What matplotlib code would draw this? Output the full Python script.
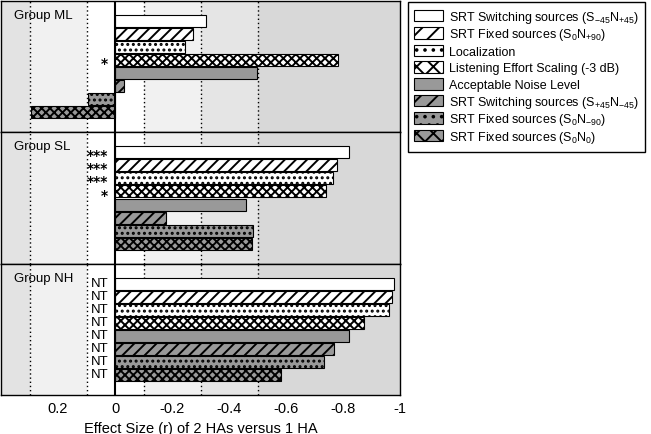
import matplotlib.pyplot as plt
import matplotlib.patches as mpatches
from matplotlib.legend_handler import HandlerPatch
import numpy as np

plt.rcParams['font.family'] = ['Liberation Sans', 'DejaVu Sans']
plt.rcParams['mathtext.fontset'] = 'custom'
plt.rcParams['mathtext.rm'] = 'Liberation Sans'
plt.rcParams['mathtext.it'] = 'Liberation Sans:italic'
plt.rcParams['hatch.linewidth'] = 1.4

# conditions, top to bottom within each group
conditions = [r'SRT Switching sources (S$_{\mathregular{-45}}$N$_{\mathregular{+45}}$)',
              r'SRT Fixed sources (S$_{\mathregular{0}}$N$_{\mathregular{+90}}$)',
              'Localization',
              'Listening Effort Scaling (-3 dB)',
              'Acceptable Noise Level',
              r'SRT Switching sources (S$_{\mathregular{+45}}$N$_{\mathregular{-45}}$)',
              r'SRT Fixed sources (S$_{\mathregular{0}}$N$_{\mathregular{-90}}$)',
              r'SRT Fixed sources (S$_{\mathregular{0}}$N$_{\mathregular{0}}$)']

groups = ['Group ML', 'Group SL', 'Group NH']

# effect sizes r (negative = benefit of 2 HAs)
r_ml = [-0.32, -0.274, -0.247, -0.781, -0.497, -0.033, 0.094, 0.295]
r_sl = [-0.822, -0.779, -0.766, -0.740, -0.460, -0.180, -0.484, -0.480]
r_nh = [-0.978, -0.972, -0.961, -0.873, -0.820, -0.770, -0.733, -0.582]

sig_ml = ['', '', '', '*', '', '', '', '']
sig_sl = ['***', '***', '***', '*', '', '', '', '']
sig_nh = ['NT'] * 8

xticks = [0.2, 0, -0.2, -0.4, -0.6, -0.8, -1]
xticklabels = ['0.2', '0', '-0.2', '-0.4', '-0.6', '-0.8', '-1']

facecolors = ['white', 'white', 'white', 'white', '#999999', '#999999', '#999999', '#999999']
hatches = [None, '///', '...', 'xxxx', None, '///', '...', 'xxxx']
# legend boxes show a coarser version of the same patterns
leg_hatches = [None, '//', '..', 'xx', None, '//', '..', 'xx']

W, H = 651, 434
fig = plt.figure(figsize=(W / 100, H / 100), dpi=100)

# panel rectangles in pixels (top, bottom)
panel_px = [(1, 132), (132, 264), (264, 395)]
left_px, right_px = 1, 400

y = np.arange(8)
all_r = [r_ml, r_sl, r_nh]
all_sig = [sig_ml, sig_sl, sig_nh]
for k, (top, bot) in enumerate(panel_px):
    ax = fig.add_axes([left_px / W, 1 - bot / H, (right_px - left_px) / W, (bot - top) / H])
    # effect size bands
    ax.axvspan(0.4, 0.3, color='#e3e3e3', lw=0, zorder=0)
    ax.axvspan(0.3, 0.1, color='#f1f1f1', lw=0, zorder=0)
    ax.axvspan(-0.1, -0.3, color='#f1f1f1', lw=0, zorder=0)
    ax.axvspan(-0.3, -0.5, color='#e5e5e5', lw=0, zorder=0)
    ax.axvspan(-0.5, -1.0, color='#d8d8d8', lw=0, zorder=0)
    for xv in [0.3, 0.1, -0.1, -0.3, -0.5]:
        ax.axvline(xv, color='black', lw=1, ls=(0, (1, 2)), zorder=1)
    ax.axvline(0, color='black', lw=1.5, zorder=3)

    bars = ax.barh(y, all_r[k], height=0.9, color=facecolors, edgecolor='black',
                   linewidth=0.8, zorder=2)
    for b, h in zip(bars, hatches):
        if h:
            b.set_hatch(h)

    for yi, s in zip(y, all_sig[k]):
        if s.startswith('*'):
            ax.text(0.025, yi + 0.62, s, ha='right', va='baseline', fontsize=10,
                    fontweight='bold', family='DejaVu Sans', zorder=4)
        elif s:
            ax.text(0.022, yi, s, ha='right', va='center', fontsize=9.5, zorder=4)

    ax.text(0.033, 0.885, groups[k], transform=ax.transAxes, ha='left', va='center',
            fontsize=9.5)
    ax.set_xlim(0.4, -1.0)
    ax.set_ylim(8.5, -1.5)
    ax.set_yticks([])
    for sp in ax.spines.values():
        sp.set_linewidth(1)
    if k < 2:
        ax.set_xticks([])
    else:
        ax.set_xticks(xticks)
        ax.set_xticklabels(xticklabels, fontsize=10.5)
        ax.tick_params(axis='x', length=0, pad=5)
        ax.set_xlabel('Effect Size (r) of 2 HAs versus 1 HA', fontsize=10.5, labelpad=4)


def small_box(legend, orig_handle, xdescent, ydescent, width, height, fontsize):
    h = 0.92 * fontsize
    return mpatches.Rectangle((-xdescent, -ydescent + (height - h) / 2 + 0.8), width, h)


handles = [mpatches.Patch(facecolor=fc, edgecolor='black', hatch=h, linewidth=0.8)
           for fc, h in zip(facecolors, leg_hatches)]
leg = fig.legend(handles, conditions, loc='upper left',
                 bbox_to_anchor=(408 / W, 1 - 2 / H), fontsize=9,
                 handlelength=2.3, handleheight=1.68, handletextpad=0.45,
                 labelspacing=0.0, borderpad=0.5, borderaxespad=0, fancybox=False,
                 framealpha=1, edgecolor='black',
                 handler_map={mpatches.Patch: HandlerPatch(patch_func=small_box)})
leg.get_frame().set_linewidth(1)

fig.savefig('out.png', dpi=100)
